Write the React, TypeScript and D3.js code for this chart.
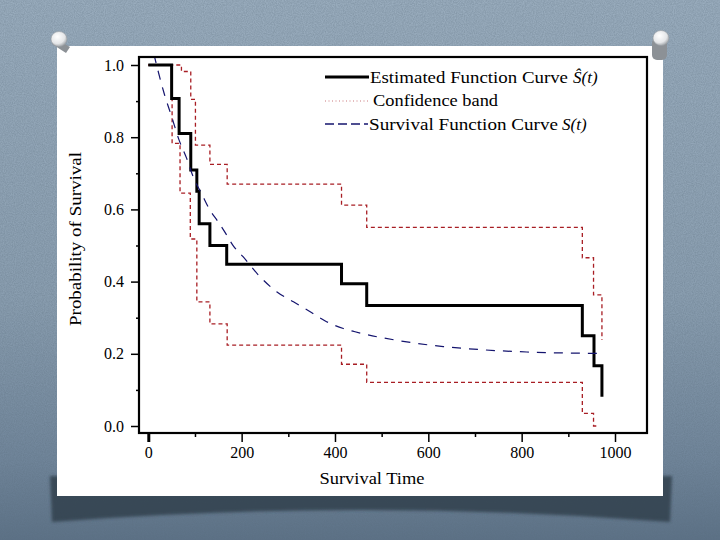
import React, { useRef, useEffect } from 'react';
import * as d3 from 'd3';

// Kaplan-Meier estimate (step after each time)
const kmTimes = [0, 50, 66, 91, 104, 109, 132, 168, 414, 468, 930, 955, 972];
const kmValues = [1.0, 0.907, 0.81, 0.709, 0.65, 0.56, 0.5, 0.448, 0.394, 0.334, 0.25, 0.167, 0.081];

// confidence band, upper and lower
const upperTimes = [0, 71, 91, 101, 132, 169, 414, 468, 930, 954, 972];
const upperValues = [1.0, 0.982, 0.905, 0.778, 0.725, 0.67, 0.612, 0.55, 0.466, 0.363, 0.238];
const lowerTimes = [0, 51, 68, 90, 104, 132, 169, 414, 468, 930, 954, 964];
const lowerValues = [1.0, 0.783, 0.645, 0.518, 0.344, 0.283, 0.224, 0.171, 0.121, 0.035, 0.0, 0.0];

// survival function curve S(t)
const curveTimes = [12, 34, 50, 66, 82, 96, 114, 132, 150, 168, 181, 203, 239, 275, 311, 346, 382, 418, 443, 539, 564, 632, 718, 811, 972];
const curveValues = [1.03, 0.921, 0.857, 0.792, 0.742, 0.691, 0.644, 0.598, 0.565, 0.529, 0.501, 0.469, 0.414, 0.372, 0.344, 0.317, 0.289, 0.27, 0.261, 0.236, 0.231, 0.22, 0.211, 0.205, 0.201];

const xMajor = [0, 200, 400, 600, 800, 1000];
const xMinor = [100, 300, 500, 700, 900];
const yMajor = [0, 0.2, 0.4, 0.6, 0.8, 1.0];
const yMinor = [0.1, 0.3, 0.5, 0.7, 0.9];

const serif = '"Liberation Serif", "Times New Roman", serif';
const bandColor = '#a81e24';
const curveColor = '#14146e';

const App: React.FC = () => {
  const svgRef = useRef<SVGSVGElement>(null);

  useEffect(() => {
    if (!svgRef.current) return;
    const svg = d3.select(svgRef.current);
    svg.selectAll('*').remove();

    const W = 720, H = 540;
    const defs = svg.append('defs');

    const bg = defs.append('linearGradient').attr('id', 'bg')
      .attr('x1', 0).attr('y1', 0).attr('x2', 0).attr('y2', 1);
    bg.append('stop').attr('offset', '0%').attr('stop-color', '#99acbd');
    bg.append('stop').attr('offset', '55%').attr('stop-color', '#8a9eb0');
    bg.append('stop').attr('offset', '85%').attr('stop-color', '#70859a');
    bg.append('stop').attr('offset', '100%').attr('stop-color', '#5c7186');

    const noise = defs.append('filter').attr('id', 'noise')
      .attr('x', 0).attr('y', 0).attr('width', '100%').attr('height', '100%');
    noise.append('feTurbulence').attr('type', 'fractalNoise')
      .attr('baseFrequency', 0.9).attr('numOctaves', 2).attr('seed', 3);
    noise.append('feColorMatrix').attr('type', 'matrix')
      .attr('values', '0 0 0 0 0.1  0 0 0 0 0.15  0 0 0 0 0.2  0.5 0 0 0 -0.12');

    const blur = defs.append('filter').attr('id', 'blur');
    blur.append('feGaussianBlur').attr('stdDeviation', 1.5);

    const pinGrad = defs.append('radialGradient').attr('id', 'pin')
      .attr('cx', '40%').attr('cy', '35%').attr('r', '65%');
    pinGrad.append('stop').attr('offset', '0%').attr('stop-color', '#ffffff');
    pinGrad.append('stop').attr('offset', '70%').attr('stop-color', '#e4e6e8');
    pinGrad.append('stop').attr('offset', '100%').attr('stop-color', '#a9adb1');

    defs.append('clipPath').attr('id', 'plotClip')
      .append('rect').attr('x', 139).attr('y', 57).attr('width', 508).attr('height', 376);

    // slide background
    svg.append('rect').attr('width', W).attr('height', H).attr('fill', 'url(#bg)');
    svg.append('rect').attr('width', W).attr('height', H).attr('filter', 'url(#noise)');

    // card shadow
    svg.append('path')
      .attr('d', 'M50,476 L672,476 L670,522 Q361,498 52,522 Z')
      .attr('fill', '#2f3d4a').attr('opacity', 0.8).attr('filter', 'url(#blur)');

    // white card
    svg.append('rect').attr('x', 57).attr('y', 46).attr('width', 606).attr('height', 450).attr('fill', '#ffffff');

    const x = d3.scaleLinear().domain([0, 1000]).range([148.3, 615]);
    const y = d3.scaleLinear().domain([0, 1]).range([426, 65]);

    const zip = (ts: number[], vs: number[]) => ts.map((t, i) => [t, vs[i]] as [number, number]);
    const step = d3.line<[number, number]>().x(d => x(d[0])).y(d => y(d[1])).curve(d3.curveStepAfter);
    const smooth = d3.line<[number, number]>().x(d => x(d[0])).y(d => y(d[1])).curve(d3.curveMonotoneX);

    const plot = svg.append('g').attr('clip-path', 'url(#plotClip)');

    [zip(upperTimes, upperValues), zip(lowerTimes, lowerValues)].forEach(band => {
      plot.append('path').attr('d', step(band)!)
        .attr('fill', 'none').attr('stroke', bandColor).attr('stroke-width', 1.3)
        .attr('stroke-dasharray', '4,3');
    });

    plot.append('path').attr('d', step(zip(kmTimes, kmValues))!)
      .attr('fill', 'none').attr('stroke', '#000').attr('stroke-width', 3);

    plot.append('path').attr('d', smooth(zip(curveTimes, curveValues))!)
      .attr('fill', 'none').attr('stroke', curveColor).attr('stroke-width', 1.2)
      .attr('stroke-dasharray', '9,8');

    // axes
    const styleAxis = (g: d3.Selection<SVGGElement, unknown, null, undefined>) => {
      g.select('.domain').remove();
      g.attr('font-family', serif).attr('font-size', 16);
      g.selectAll('line').attr('stroke', '#000').attr('stroke-width', 1.5);
      g.selectAll('text').attr('fill', '#000');
    };

    svg.append('g').attr('transform', 'translate(139,0)')
      .call(d3.axisLeft(y).tickValues(yMajor).tickSize(8).tickPadding(7).tickFormat(d3.format('.1f')))
      .call(styleAxis);
    svg.append('g').attr('transform', 'translate(139,0)')
      .call(d3.axisLeft(y).tickValues(yMinor).tickSize(3).tickFormat(() => ''))
      .call(styleAxis);

    const xg = svg.append('g').attr('transform', 'translate(0,433)')
      .call(d3.axisBottom(x).tickValues(xMajor).tickSize(9).tickPadding(5).tickFormat(d3.format('d')))
      .call(styleAxis);
    xg.selectAll<SVGGElement, number>('.tick').filter(d => d === 0).select('line').attr('stroke-width', 3);
    svg.append('g').attr('transform', 'translate(0,433)')
      .call(d3.axisBottom(x).tickValues(xMinor).tickSize(4).tickFormat(() => ''))
      .call(styleAxis);

    // frame
    svg.append('rect').attr('x', 139).attr('y', 57).attr('width', 508).attr('height', 376)
      .attr('fill', 'none').attr('stroke', '#000').attr('stroke-width', 2.2);

    // axis titles
    svg.append('text').attr('x', 372).attr('y', 484).attr('text-anchor', 'middle')
      .attr('font-family', serif).attr('font-size', 17).attr('textLength', 105)
      .attr('lengthAdjust', 'spacingAndGlyphs').text('Survival Time');
    svg.append('text').attr('transform', 'translate(81,239) rotate(-90)').attr('text-anchor', 'middle')
      .attr('font-family', serif).attr('font-size', 17).attr('textLength', 174)
      .attr('lengthAdjust', 'spacingAndGlyphs').text('Probability of Survival');

    // legend
    const lg = svg.append('g').attr('font-family', serif).attr('font-size', 17);
    lg.append('line').attr('x1', 325).attr('x2', 369).attr('y1', 77).attr('y2', 77)
      .attr('stroke', '#000').attr('stroke-width', 3);
    lg.append('text').attr('x', 370).attr('y', 83).attr('textLength', 198)
      .attr('lengthAdjust', 'spacingAndGlyphs').text('Estimated Function Curve');
    lg.append('text').attr('x', 573).attr('y', 83).attr('font-style', 'italic').text('Ŝ(t)');

    lg.append('line').attr('x1', 325).attr('x2', 368).attr('y1', 101).attr('y2', 101)
      .attr('stroke', bandColor).attr('stroke-width', 1).attr('stroke-dasharray', '1,2.5').attr('opacity', 0.6);
    lg.append('text').attr('x', 373).attr('y', 106).attr('textLength', 125)
      .attr('lengthAdjust', 'spacingAndGlyphs').text('Confidence band');

    lg.append('line').attr('x1', 325).attr('x2', 368).attr('y1', 124).attr('y2', 124)
      .attr('stroke', curveColor).attr('stroke-width', 1.3).attr('stroke-dasharray', '9,4');
    lg.append('text').attr('x', 369).attr('y', 130).attr('textLength', 189)
      .attr('lengthAdjust', 'spacingAndGlyphs').text('Survival Function Curve');
    lg.append('text').attr('x', 562).attr('y', 130).attr('font-style', 'italic').text('S(t)');

    // push pins
    svg.append('path').attr('d', 'M55,38 L70,47 L66,53 L52,44 Z').attr('fill', '#8c9196');
    svg.append('ellipse').attr('cx', 59).attr('cy', 39).attr('rx', 8).attr('ry', 7.5)
      .attr('fill', 'url(#pin)').attr('stroke', '#9aa0a5').attr('stroke-width', 0.6);
    svg.append('rect').attr('x', 652).attr('y', 38).attr('width', 15).attr('height', 22).attr('rx', 5)
      .attr('fill', '#8c9196');
    svg.append('ellipse').attr('cx', 661).attr('cy', 38).attr('rx', 8).attr('ry', 7.5)
      .attr('fill', 'url(#pin)').attr('stroke', '#9aa0a5').attr('stroke-width', 0.6);
  }, []);

  return (
    <svg ref={svgRef} width={720} height={540}
      style={{ position: 'fixed', left: 0, top: 0, display: 'block' }}></svg>
  );
};

export default App;
